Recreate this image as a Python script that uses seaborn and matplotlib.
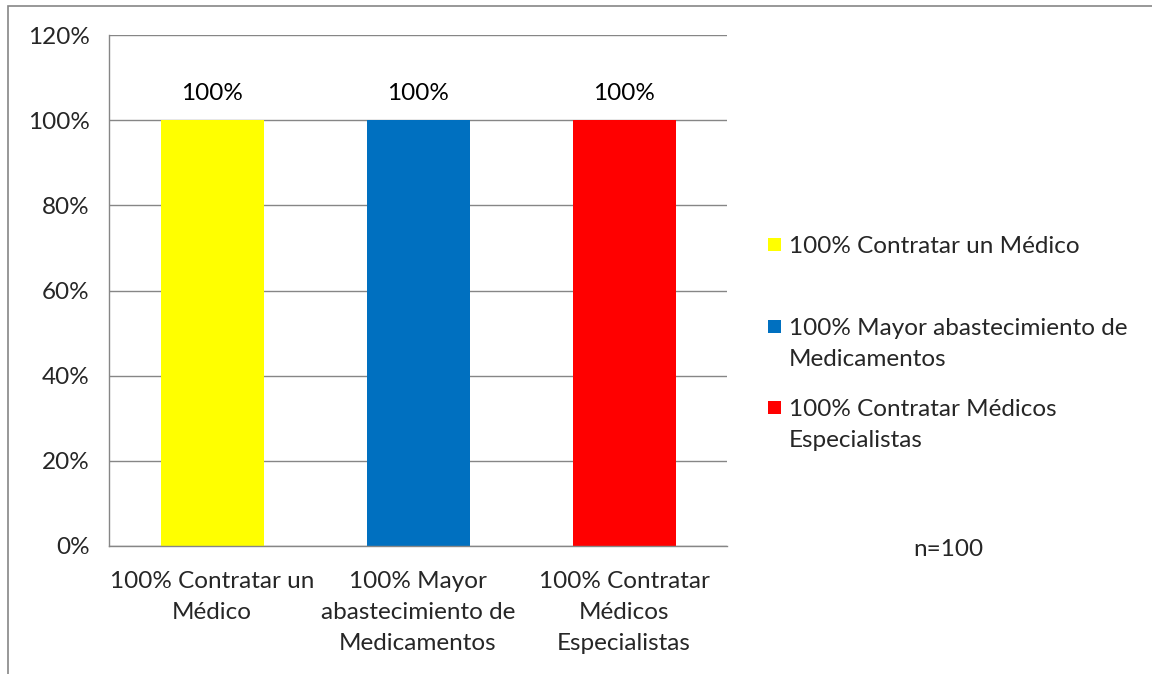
import matplotlib
matplotlib.use("Agg")
import matplotlib.pyplot as plt
import matplotlib.patches as mpatches
import seaborn as sns
import pandas as pd

# data
categorias = ["100% Contratar un\nMédico",
              "100% Mayor\nabastecimiento de\nMedicamentos",
              "100% Contratar\nMédicos\nEspecialistas"]
leyenda = ["100% Contratar un Médico",
           "100% Mayor abastecimiento de\nMedicamentos",
           "100% Contratar Médicos\nEspecialistas"]
valores = [1.00, 1.00, 1.00]
colores = ["#FFFF00", "#0070C0", "#FF0000"]
nota = "n=100"

df = pd.DataFrame({"cat": categorias, "val": valores})

sns.set_style("white")
plt.rcParams["font.family"] = ["Lato", "DejaVu Sans"]
fs = 17.5
gris = "#868686"

W, H = 1152, 674
fig = plt.figure(figsize=(W/100, H/100), dpi=100)
ax = fig.add_axes([109/W, 1-546/H, (727-109)/W, (546-35)/H])

sns.barplot(data=df, x="cat", y="val", hue="cat", palette=colores,
            width=0.5, dodge=False, legend=False, ax=ax, saturation=1,
            linewidth=0)

for c in ax.containers:
    ax.bar_label(c, labels=["{:.0%}".format(v) for v in c.datavalues],
                 padding=12, fontsize=fs, color="black")

ax.set_ylim(0, 1.2)
ax.set_yticks([0, 0.2, 0.4, 0.6, 0.8, 1.0, 1.2])
ax.set_yticklabels(["{:.0%}".format(t) for t in ax.get_yticks()], fontsize=fs)
ax.set_xlim(-0.5, 2.5)
ax.set_xticks([-0.5, 0.5, 1.5, 2.5], minor=False)
ax.set_xticklabels([])
ax.set_xticks([0, 1, 2], minor=True)
ax.set_xticklabels(categorias, minor=True, fontsize=fs, linespacing=1.6)
ax.tick_params(axis="x", which="minor", length=0, pad=18)
ax.tick_params(axis="x", which="major", length=8, color=gris, direction="out")
ax.tick_params(axis="y", length=8, color=gris, direction="out", pad=6)
ax.set_xlabel("")
ax.set_ylabel("")

ax.yaxis.grid(True, color=gris, linewidth=1)
ax.set_axisbelow(True)
for s in ["top", "right"]:
    ax.spines[s].set_visible(False)
for s in ["left", "bottom"]:
    ax.spines[s].set_color(gris)
    ax.spines[s].set_linewidth(1)

# legend: square aligned with the first line of each entry
tops = [245, 327, 408]
for col, lab, y in zip(colores, leyenda, tops):
    fig.patches.append(mpatches.Rectangle((768/W, 1-(y+6)/H), 13/W, 13/H,
                                          transform=fig.transFigure,
                                          facecolor=col, edgecolor="none"))
    fig.text(789/W, 1-(y-9)/H, lab, fontsize=fs, ha="left", va="top",
             linespacing=1.6)

fig.text(948/W, 1-550/H, nota, fontsize=fs, ha="center", va="center")

# outer chart frame
fig.patches.append(mpatches.Rectangle((8/W, -0.1), 1.2, 1-6/H+0.1,
                                      transform=fig.transFigure, fill=False,
                                      edgecolor=gris, linewidth=1.2))

fig.savefig("out.png", dpi=100)
